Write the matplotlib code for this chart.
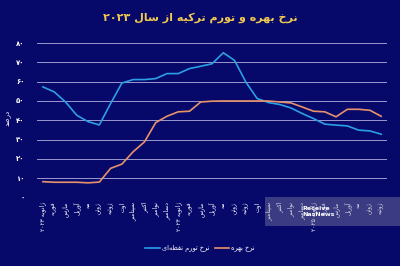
import re
import matplotlib
matplotlib.use("Agg")
import matplotlib.pyplot as plt
from matplotlib.patches import Rectangle

# --- minimal Persian shaping (matplotlib 3.10 has no complex text layout) ---
DUAL = {
    "ب": "\uFE8F\uFE90\uFE91\uFE92", "پ": "\uFB56\uFB57\uFB58\uFB59",
    "ت": "\uFE95\uFE96\uFE97\uFE98", "خ": "\uFEA5\uFEA6\uFEA7\uFEA8",
    "س": "\uFEB1\uFEB2\uFEB3\uFEB4", "ص": "\uFEB9\uFEBA\uFEBB\uFEBC",
    "ط": "\uFEC1\uFEC2\uFEC3\uFEC4", "ف": "\uFED1\uFED2\uFED3\uFED4",
    "ق": "\uFED5\uFED6\uFED7\uFED8", "ک": "\uFB8E\uFB8F\uFB90\uFB91",
    "ل": "\uFEDD\uFEDE\uFEDF\uFEE0", "م": "\uFEE1\uFEE2\uFEE3\uFEE4",
    "ن": "\uFEE5\uFEE6\uFEE7\uFEE8", "ه": "\uFEE9\uFEEA\uFEEB\uFEEC",
    "ی": "\uFBFC\uFBFD\uFBFE\uFBFF", "ئ": "\uFE89\uFE8A\uFE8B\uFE8C",
}
RIGHT = {
    "ا": "\uFE8D\uFE8E", "آ": "\uFE81\uFE82", "د": "\uFEA9\uFEAA",
    "ر": "\uFEAD\uFEAE", "ز": "\uFEAF\uFEB0", "ژ": "\uFB8A\uFB8B",
    "و": "\uFEED\uFEEE",
}


def shape(text):
    out = []
    for i, c in enumerate(text):
        if c not in DUAL and c not in RIGHT:
            if c != "\u200c":
                out.append(c)
            continue
        prev = text[i - 1] if i > 0 else ""
        nxt = text[i + 1] if i + 1 < len(text) else ""
        jp = prev in DUAL
        jn = c in DUAL and (nxt in DUAL or nxt in RIGHT)
        f = DUAL.get(c) or RIGHT.get(c)
        if c in RIGHT:
            out.append(f[1] if jp else f[0])
        else:
            out.append(f[3] if jp and jn else f[1] if jp else f[2] if jn else f[0])
    s = "".join(out)
    runs = re.findall(r"[0-9۰-۹.]+|[^0-9۰-۹.]+", s)
    return "".join(r if re.match(r"[0-9۰-۹]", r) else r[::-1] for r in runs[::-1])


months = ["ژانویه ۲۰۲۳", "فوریه", "مارس", "آوریل", "مه", "ژوئن", "ژوئیه", "اوت",
          "سپتامبر", "اکتبر", "نوامبر", "دسامبر",
          "ژانویه ۲۰۲۴", "فوریه", "مارس", "آوریل", "مه", "ژوئن", "ژوئیه", "اوت",
          "سپتامبر", "اکتبر", "نوامبر", "دسامبر",
          "ژانویه ۲۰۲۵", "فوریه", "مارس", "آوریل", "مه", "ژوئن", "ژوئیه"]

inflation = [57.3, 54.7, 49.5, 42.6, 39.3, 37.6, 48.7, 59.3, 61.1, 61.1, 61.6,
             64.2, 64.2, 66.8, 68.0, 69.3, 75.0, 71.0, 59.8, 51.3, 49.2, 48.2,
             46.4, 43.5, 40.9, 38.0, 37.5, 37.1, 34.9, 34.5, 32.8]
rate = [8.2, 7.9, 7.9, 7.9, 7.6, 8.0, 15.1, 17.3, 23.7, 28.8, 38.8, 42.1,
        44.4, 44.7, 49.5, 49.9, 50.0, 50.0, 50.0, 50.0, 50.0, 49.5, 49.0, 46.9,
        44.7, 44.4, 41.8, 45.7, 45.7, 45.2, 42.1]

yticks = [0, 10, 20, 30, 40, 50, 60, 70, 80]
fa_digits = str.maketrans("0123456789", "۰۱۲۳۴۵۶۷۸۹")

bg = "#07096a"
plt.rcParams["font.family"] = ["DejaVu Sans"]

fig = plt.figure(figsize=(4, 2.66), dpi=100, facecolor=bg)
ax = fig.add_axes([0.0925, 0.2575, 0.875, 0.595], facecolor=bg)

x = list(range(len(months)))
for t in yticks:
    ax.axhline(t, color="#9a9ad0", lw=0.7, zorder=1)
ax.plot(x, inflation, color="#2b9fe6", lw=1.2, zorder=3, label=shape("نرخ تورم نقطه‌ای"))
ax.plot(x, rate, color="#e8926a", lw=1.2, zorder=3, label=shape("نرخ بهره"))

ax.set_xlim(-0.53, 30.52)
ax.set_ylim(0, 82)
ax.set_yticks(yticks)
ax.set_yticklabels([str(t).translate(fa_digits) for t in yticks], color="white",
                   fontsize=5, fontweight="bold")
ax.set_xticks(x)
ax.set_xticklabels([shape(m) for m in months], rotation=90, color="white", fontsize=4.3)
ax.tick_params(axis="both", length=0)
ax.tick_params(axis="y", pad=9)
ax.tick_params(axis="x", pad=3)
for s in ax.spines.values():
    s.set_visible(False)

ax.set_ylabel(shape("درصد"), color="white", fontsize=5, labelpad=0)
ax.yaxis.set_label_coords(-0.075, 0.5)

fig.text(0.5, 0.932, shape("نرخ بهره و تورم ترکیه از سال ۲۰۲۳"), color="#f0c850",
         fontsize=8, fontweight="bold", ha="center", va="center")

leg = fig.legend(loc="center", bbox_to_anchor=(0.5, 0.064), ncol=2, frameon=False,
                 fontsize=4.8, handlelength=2.2, handletextpad=0.3, columnspacing=0.8)
for t in leg.get_texts():
    t.set_color("white")

# watermark box
fig.patches.append(Rectangle((0.662, 0.15), 0.338, 0.11, transform=fig.transFigure,
                             facecolor="#9a9ab0", alpha=0.35, edgecolor="none", zorder=5))
fig.text(0.755, 0.205, "Receive\nNasNews", color="white", fontsize=4.5,
         fontweight="bold", ha="left", va="center", linespacing=1.3, zorder=6)

fig.savefig("out.png", dpi=100, facecolor=bg)
